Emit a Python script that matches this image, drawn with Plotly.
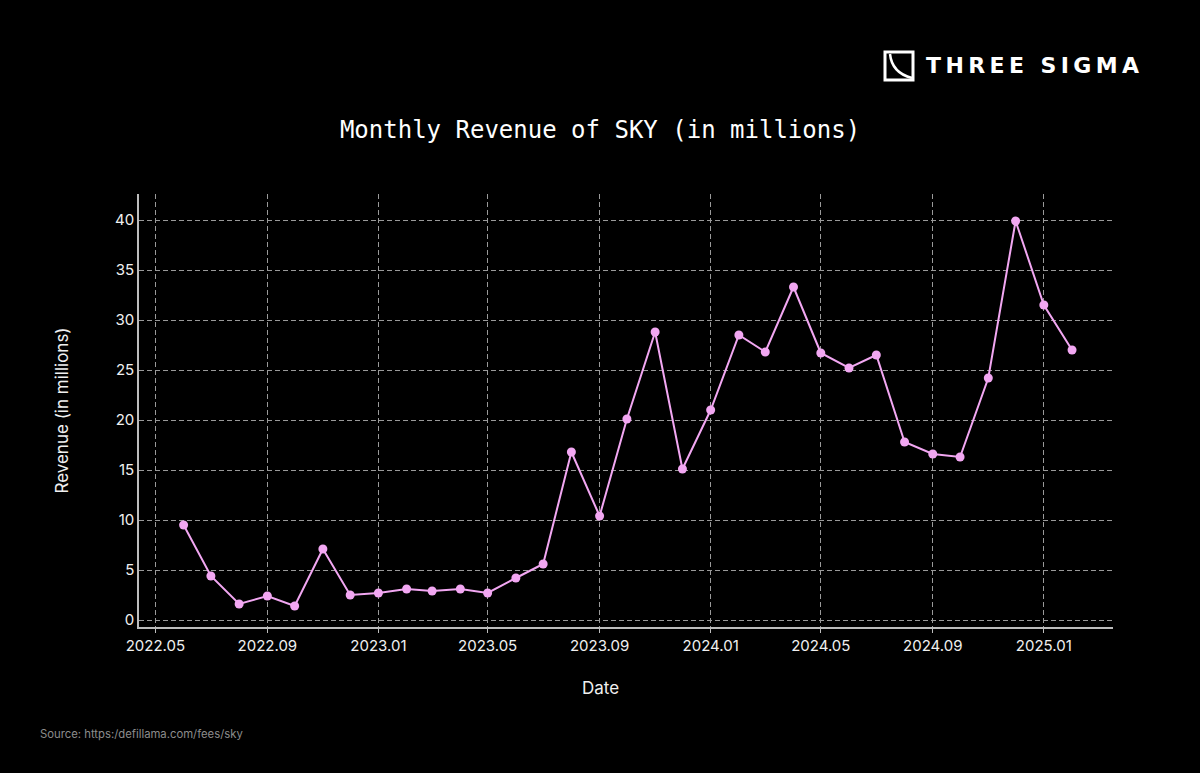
import plotly.graph_objects as go

dates = [
    "2022-06-01", "2022-07-01", "2022-08-01", "2022-09-01", "2022-10-01", "2022-11-01", "2022-12-01",
    "2023-01-01", "2023-02-01", "2023-03-01", "2023-04-01", "2023-05-01", "2023-06-01", "2023-07-01",
    "2023-08-01", "2023-09-01", "2023-10-01", "2023-11-01", "2023-12-01",
    "2024-01-01", "2024-02-01", "2024-03-01", "2024-04-01", "2024-05-01", "2024-06-01", "2024-07-01",
    "2024-08-01", "2024-09-01", "2024-10-01", "2024-11-01", "2024-12-01",
    "2025-01-01", "2025-02-01",
]
revenue = [
    9.5, 4.4, 1.6, 2.4, 1.4, 7.1, 2.5,
    2.7, 3.1, 2.9, 3.1, 2.7, 4.2, 5.6,
    16.8, 10.4, 20.1, 28.8, 15.1,
    21.0, 28.5, 26.8, 33.3, 26.7, 25.2, 26.5,
    17.8, 16.6, 16.3, 24.2, 39.9,
    31.5, 27.0,
]

W, H = 1200, 773
L, R, T, B = 139, 1113, 194, 627
PW, PH = R - L, B - T

def px(x):
    return (x - L) / PW

def py(y):
    return (B - y) / PH

LINE = "#f2a7f2"
GRID = "#9a9a9a"
TXT = "#f0f0f0"
SANS = "Inter, Liberation Sans, sans-serif"

fig = go.Figure()
fig.add_trace(go.Scatter(
    x=dates, y=revenue, mode="lines+markers",
    line=dict(color=LINE, width=2),
    marker=dict(color=LINE, size=9),
    hoverinfo="x+y", showlegend=False,
))

axis_font = dict(family=SANS, size=15, color=TXT)
logo_text = "\u2009".join("THREE SIGMA")

fig.update_layout(
    width=W, height=H,
    paper_bgcolor="#000000", plot_bgcolor="#000000",
    margin=dict(l=L, r=W - R, t=T, b=H - B),
    title=dict(
        text="Monthly Revenue of SKY (in millions)",
        x=600 / W, xanchor="center", xref="container",
        y=1 - 130 / H, yanchor="middle", yref="container",
        font=dict(family="DejaVu Sans Mono, monospace", size=24, color="#ffffff"),
    ),
    xaxis=dict(
        range=["2022-04-13", "2025-03-18"],
        tickformat="%Y.%m", dtick="M4", tick0="2022-05-01",
        showgrid=True, gridcolor=GRID, griddash="5px,3px", gridwidth=1,
        showline=True, linecolor="#bdbdbd", linewidth=1.5,
        ticks="outside", ticklen=4, tickcolor="#bdbdbd",
        tickfont=axis_font, zeroline=False,
    ),
    yaxis=dict(
        range=[-0.7, 42.6],
        tickvals=[0, 5, 10, 15, 20, 25, 30, 35, 40],
        showgrid=True, gridcolor=GRID, griddash="5px,3px", gridwidth=1,
        showline=True, linecolor="#bdbdbd", linewidth=1.5,
        ticks="", tickfont=axis_font, zeroline=False,
        title=dict(text="Revenue (in millions)", font=dict(family=SANS, size=17, color=TXT), standoff=42),
    ),
    shapes=[
        dict(type="rect", xref="paper", yref="paper",
             x0=px(885), x1=px(913), y0=py(80), y1=py(52),
             line=dict(color="#ffffff", width=3), fillcolor="rgba(0,0,0,0)"),
        dict(type="path", xref="paper", yref="paper",
             path=f"M {px(890)},{py(54)} Q {px(892)},{py(73)} {px(912)},{py(78)}",
             line=dict(color="#ffffff", width=2.5)),
    ],
    annotations=[
        dict(text="Date", xref="paper", yref="paper",
             x=px(600), y=py(688), xanchor="center", yanchor="middle", showarrow=False,
             font=dict(family=SANS, size=17, color=TXT)),
        dict(text=f"<b>{logo_text}</b>", xref="paper", yref="paper",
             x=px(924), y=py(66), xanchor="left", yanchor="middle", showarrow=False,
             font=dict(family="DejaVu Sans, sans-serif", size=22, color="#ffffff")),
        dict(text="Source: https:/defillama.com/fees/sky", xref="paper", yref="paper",
             x=px(38), y=py(734), xanchor="left", yanchor="middle", showarrow=False,
             font=dict(family=SANS, size=11.3, color="#8c8c8c")),
    ],
)

fig.write_html(
    "out.html",
    config={"displayModeBar": False},
    post_script="document.body.style.margin='0';document.body.style.background='#000';",
)
